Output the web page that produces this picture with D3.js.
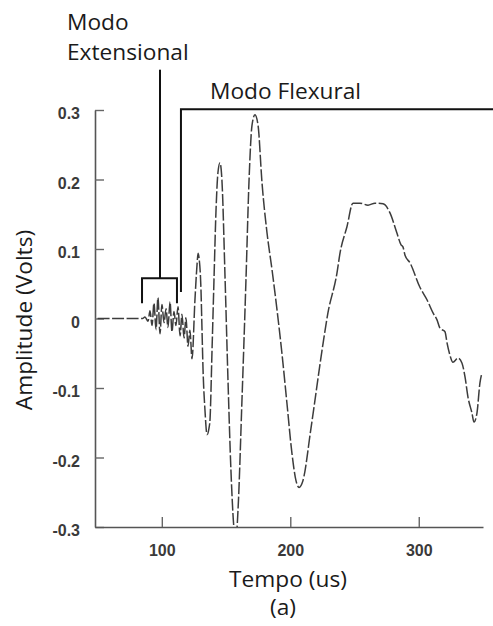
<!DOCTYPE html>
<meta charset="utf-8">
<script src="https://d3js.org/d3.v7.min.js"></script>
<style>
  body { margin: 0; background: #fff; }
</style>
<div id="chart"></div>
<script>

// signal: time (us) and amplitude (Volts)
const time = [
  50, 85, 86.9, 89.3, 90.8, 92.4, 93.9, 95.5, 97.0, 98.6,
  100.1, 101.7, 103.3, 104.8, 106.4, 107.9, 109.5, 111.0, 112.6, 114.2,
  115.7, 117.3, 118.8, 120.4, 121.9, 123.5, 125.8, 127.4, 128.2, 129.0,
  130.5, 131.3, 132.1, 133.6, 135.2, 136.7, 137.5, 139.1, 140.6, 142.2,
  143.7, 145.3, 146.8, 149.2, 151.5, 153.8, 156.2, 157.7, 159.3, 162.4,
  165.5, 167.9, 170.2, 172.5, 174.9, 178.0, 181.9, 185.8, 189.7, 193.5,
  197.4, 201.3, 204.4, 206.8, 209.9, 216.1, 225.5, 229.3, 236.3, 238.7,
  244.1, 248.8, 254.2, 260.5, 265.9, 272.2, 277.6, 283.0, 286.2, 287.7,
  289.3, 293.2, 300.9, 306.4, 311.1, 314.2, 316.5, 320.4, 322.0, 324.3,
  326.6, 330.5, 333.6, 336.0, 338.3, 341.4, 343.0, 345.3, 347.6, 349.2
];
const amplitude = [
  0, 0, 0.002, -0.004, 0.011, -0.010, 0.022, -0.016, 0.030, -0.022,
  0.020, -0.006, 0.014, -0.013, 0.024, -0.019, 0.010, -0.010, 0.017, -0.025,
  0.006, -0.028, 0.001, -0.040, -0.017, -0.058, 0.027, 0.077, 0.094, 0.087,
  0.041, -0.017, -0.074, -0.132, -0.167, -0.158, -0.146, -0.045, 0.055, 0.156,
  0.210, 0.224, 0.199, 0.060, -0.088, -0.218, -0.303, -0.318, -0.276, -0.117,
  0.055, 0.199, 0.278, 0.293, 0.278, 0.195, 0.123, 0.070, 0.012, -0.050,
  -0.122, -0.194, -0.233, -0.243, -0.233, -0.158, -0.036, 0.008, 0.065, 0.094,
  0.132, 0.166, 0.166, 0.163, 0.166, 0.165, 0.152, 0.123, 0.106, 0.103,
  0.091, 0.080, 0.045, 0.027, 0.008, -0.002, -0.014, -0.019, -0.035, -0.053,
  -0.063, -0.057, -0.064, -0.084, -0.113, -0.136, -0.149, -0.136, -0.093, -0.078
];

const xTicks = [100, 200, 300];
const yTicks = [-0.3, -0.2, -0.1, 0, 0.1, 0.2, 0.3];

// bracket annotations, in data units
const extBracket = {t0: 84.6, t1: 111.8, stem: 98.6, top: 0.058, leg: 0.022, stemTop: 0.358};
const flexLine = {t: 114.9, bottom: 0.038, top: 0.301};

const W = 493, H = 626;
const margin = {top: 110, right: 10, bottom: 99, left: 95};

const svg = d3.select("#chart")
  .append("svg")
    .attr("width", W)
    .attr("height", H)
    .style("font-family", "'Open Sans', sans-serif");

svg.append("rect").attr("width", W).attr("height", H).attr("fill", "#fff");

const x = d3.scaleLinear()
  .domain([48, 350])
  .range([margin.left, W - margin.right]);
const y = d3.scaleLinear()
  .domain([-0.3, 0.3])
  .range([H - margin.bottom, margin.top]);

// axes
const yAxis = svg.append("g")
  .attr("transform", `translate(${margin.left},0)`)
  .call(d3.axisLeft(y)
    .tickValues(yTicks)
    .tickFormat(d => String(d))
    .tickSizeInner(-9)
    .tickSizeOuter(0)
    .tickPadding(15));

const xAxis = svg.append("g")
  .attr("transform", `translate(0,${H - margin.bottom})`)
  .call(d3.axisBottom(x)
    .tickValues(xTicks)
    .tickSizeInner(-10)
    .tickSizeOuter(0)
    .tickPadding(18));

[xAxis, yAxis].forEach(g => {
  g.select(".domain").attr("stroke", "#555").attr("stroke-width", 1.6);
  g.selectAll(".tick line").attr("stroke", "#666").attr("stroke-width", 1.4);
  g.selectAll(".tick text")
    .attr("fill", "#3a3a3a")
    .style("font-family", "'Liberation Sans', Arial, sans-serif")
    .style("font-size", "16px")
    .style("font-weight", "bold");
});
yAxis.selectAll(".tick text").attr("dy", "0.55em");

// clip for the signal
svg.append("clipPath").attr("id", "plot")
  .append("rect")
    .attr("x", margin.left)
    .attr("y", margin.top)
    .attr("width", W - margin.right - margin.left)
    .attr("height", H - margin.bottom - margin.top);

const line = d3.line()
  .x((d, i) => x(time[i]))
  .y(d => y(d))
  .curve(d3.curveMonotoneX);

svg.append("path")
  .datum(amplitude)
  .attr("clip-path", "url(#plot)")
  .attr("fill", "none")
  .attr("stroke", "#3c3c3c")
  .attr("stroke-width", 1.5)
  .attr("stroke-dasharray", "12 2.5")
  .attr("d", line);

// annotation lines
const ann = svg.append("g")
  .attr("fill", "none")
  .attr("stroke", "#111")
  .attr("stroke-width", 2);

ann.append("path")
  .attr("d", `M${x(extBracket.stem)},${y(extBracket.stemTop)}V${y(extBracket.top)}`);
ann.append("path")
  .attr("d", `M${x(extBracket.t0)},${y(extBracket.leg)}V${y(extBracket.top)}H${x(extBracket.t1)}V${y(extBracket.leg)}`);
ann.append("path")
  .attr("d", `M${x(flexLine.t)},${y(flexLine.bottom)}V${y(flexLine.top)}H${W}`);

// texts
const txt = svg.append("g")
  .attr("fill", "#1a1a1a")
  .style("font-size", "22.7px");

txt.append("text").attr("x", 67).attr("y", 30).text("Modo");
txt.append("text").attr("x", 67).attr("y", 60).text("Extensional");
txt.append("text").attr("x", 210).attr("y", 99).text("Modo Flexural");

txt.append("text")
  .attr("x", 288)
  .attr("y", 587)
  .attr("text-anchor", "middle")
  .text("Tempo (us)");
txt.append("text")
  .attr("x", 283)
  .attr("y", 615)
  .attr("text-anchor", "middle")
  .text("(a)");
txt.append("text")
  .attr("transform", "translate(32,320) rotate(-90)")
  .attr("text-anchor", "middle")
  .text("Amplitude (Volts)");

</script>
